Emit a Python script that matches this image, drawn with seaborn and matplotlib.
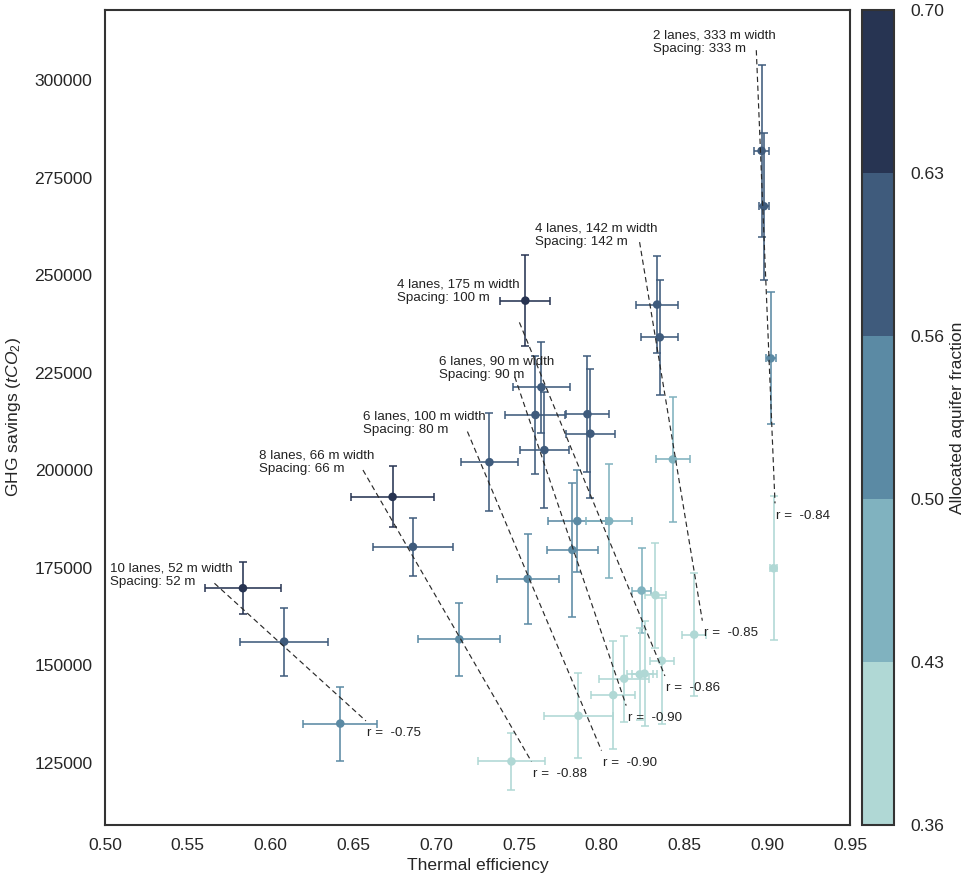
import numpy as np
import pandas as pd
import matplotlib
matplotlib.use('Agg')
import matplotlib.pyplot as plt
from matplotlib.colors import ListedColormap, BoundaryNorm
from matplotlib.cm import ScalarMappable
import seaborn as sns

# Scenario results: thermal efficiency vs GHG savings, with spread
efficiency = [0.5833, 0.6082, 0.6421, 0.6737, 0.6860, 0.7140, 0.7455, 0.7322, 0.7553, 0.7860,
              0.7539, 0.7636, 0.7600, 0.7914, 0.7932, 0.7654, 0.7853, 0.8045, 0.7823, 0.8241,
              0.8325, 0.8363, 0.8259, 0.8230, 0.8136, 0.8070, 0.8335, 0.8351, 0.8430, 0.8559,
              0.8966, 0.8980, 0.9021, 0.9039]
efficiency_err = [0.0228, 0.0264, 0.0224, 0.0252, 0.0239, 0.0248, 0.0203, 0.0171, 0.0187, 0.0206,
                  0.0151, 0.0174, 0.0181, 0.0128, 0.0149, 0.0146, 0.0175, 0.0141, 0.0156, 0.0058,
                  0.0065, 0.0073, 0.0078, 0.0078, 0.0151, 0.0134, 0.0126, 0.0113, 0.0101, 0.0073,
                  0.0044, 0.0029, 0.0030, 0.0020]
ghg_savings = [169800, 156100, 135100, 193200, 180400, 156700, 125400, 202100, 172200, 137100,
               243500, 221300, 214200, 214400, 209400, 205200, 187000, 187000, 179600, 169200,
               168000, 151200, 147900, 147700, 146600, 142400, 242500, 234100, 202800, 157900,
               281900, 267700, 228700, 174900]
ghg_err = [6700, 8700, 9500, 7800, 7400, 9300, 7300, 12500, 11500, 10900,
           11600, 11700, 15100, 14900, 16500, 14800, 13000, 14700, 17100, 10800,
           13500, 16100, 13400, 11800, 11000, 13800, 12500, 14700, 16000, 15800,
           22100, 18800, 16900, 18500]
aquifer_fraction = [0.67, 0.60, 0.53, 0.67, 0.60, 0.53, 0.40, 0.60, 0.53, 0.40,
                    0.67, 0.60, 0.60, 0.60, 0.60, 0.60, 0.53, 0.46, 0.53, 0.46,
                    0.40, 0.40, 0.40, 0.40, 0.40, 0.40, 0.60, 0.60, 0.46, 0.40,
                    0.60, 0.60, 0.53, 0.40]

# Dashed trend per lane layout
layout_labels = ['10 lanes, 52 m width\nSpacing: 52 m',
                 '8 lanes, 66 m width\nSpacing: 66 m',
                 '6 lanes, 100 m width\nSpacing: 80 m',
                 '6 lanes, 90 m width\nSpacing: 90 m',
                 '4 lanes, 175 m width\nSpacing: 100 m',
                 '4 lanes, 142 m width\nSpacing: 142 m',
                 '2 lanes, 333 m width\nSpacing: 333 m']
layout_r = [-0.75, -0.88, -0.90, -0.90, -0.86, -0.85, -0.84]
trend_x_start = [0.5661, 0.6558, 0.7189, 0.7475, 0.7503, 0.8229, 0.8934]
trend_y_start = [171055, 200080, 209945, 223985, 237925, 258500, 307690]
trend_x_end = [0.6576, 0.7576, 0.7999, 0.8148, 0.8382, 0.8608, 0.9047]
trend_y_end = [135775, 125345, 128170, 139700, 147305, 161475, 191550]
label_x = [0.5030, 0.5933, 0.6560, 0.7019, 0.6765, 0.7600, 0.8309]
label_y = [173180, 202130, 212000, 226090, 245810, 260290, 309690]

fraction_bounds = [0.36, 0.428, 0.496, 0.564, 0.632, 0.70]
bin_colors = ['#b0d8d5', '#80b2bf', '#5b8aa4', '#3f5b7c', '#273452']


def main():
    sns.set_theme(style='white')
    plt.rcParams['font.family'] = ['Liberation Sans', 'DejaVu Sans']
    plt.rcParams['mathtext.fontset'] = 'custom'
    plt.rcParams['mathtext.rm'] = 'Liberation Sans'
    plt.rcParams['mathtext.it'] = 'Liberation Sans:italic'

    df = pd.DataFrame({'eff': efficiency, 'eff_err': efficiency_err,
                       'ghg': ghg_savings, 'ghg_err': ghg_err,
                       'frac': aquifer_fraction})
    df['bin'] = np.digitize(df['frac'], fraction_bounds[1:-1])

    cmap = ListedColormap(bin_colors)
    norm = BoundaryNorm(fraction_bounds, cmap.N)

    fig = plt.figure(figsize=(9.68, 8.82), dpi=100)
    ax = fig.add_axes([0.1085, 0.0646, 0.7696, 0.9241])
    cax = fig.add_axes([0.8905, 0.0646, 0.033, 0.9241])

    # error bars first, then the markers on top
    for _, row in df.iterrows():
        ax.errorbar(row['eff'], row['ghg'], xerr=row['eff_err'], yerr=row['ghg_err'],
                    fmt='none', ecolor=bin_colors[int(row['bin'])], elinewidth=1.15,
                    capsize=2.6, capthick=1.1, zorder=2)
    sns.scatterplot(data=df, x='eff', y='ghg', hue='bin',
                    palette=dict(enumerate(bin_colors)), s=38, linewidth=0,
                    legend=False, ax=ax, zorder=3)

    for i, lab in enumerate(layout_labels):
        ax.plot([trend_x_start[i], trend_x_end[i]], [trend_y_start[i], trend_y_end[i]],
                color='#2a2a2a', lw=0.85, dashes=(4.5, 3), zorder=4)
        ax.text(label_x[i], label_y[i], lab, ha='left', va='center', fontsize=9.6,
                color='#222222', linespacing=1.15)
        ax.annotate(f'r =  {layout_r[i]:.2f}', xy=(trend_x_end[i], trend_y_end[i]),
                    xytext=(1, -9), textcoords='offset points', ha='left', va='center',
                    fontsize=9.6, color='#222222')

    ax.set_xlim(0.50, 0.95)
    ax.set_ylim(109100, 318000)
    ax.set_xticks(np.arange(0.50, 0.951, 0.05))
    ax.set_xticklabels([f'{t:.2f}' for t in np.arange(0.50, 0.951, 0.05)])
    ax.set_yticks(np.arange(125000, 300001, 25000))
    ax.tick_params(labelsize=12.6, pad=9, length=0)
    ax.set_xlabel('Thermal efficiency', fontsize=12.6, labelpad=4)
    ax.set_ylabel('GHG savings ($tCO_2$)', fontsize=12.6, labelpad=8)
    for s in ax.spines.values():
        s.set_color('#333333')
        s.set_linewidth(1.5)

    cb = fig.colorbar(ScalarMappable(norm=norm, cmap=cmap), cax=cax,
                      ticks=fraction_bounds, format='%.2f')
    cb.ax.tick_params(labelsize=12.6, length=0, pad=12)
    cb.outline.set_edgecolor('#333333')
    cb.outline.set_linewidth(1.5)
    cb.set_label('Allocated aquifer fraction', fontsize=12.6, labelpad=4)

    fig.savefig('out.png', dpi=100)
    plt.close(fig)


if __name__ == '__main__':
    main()
